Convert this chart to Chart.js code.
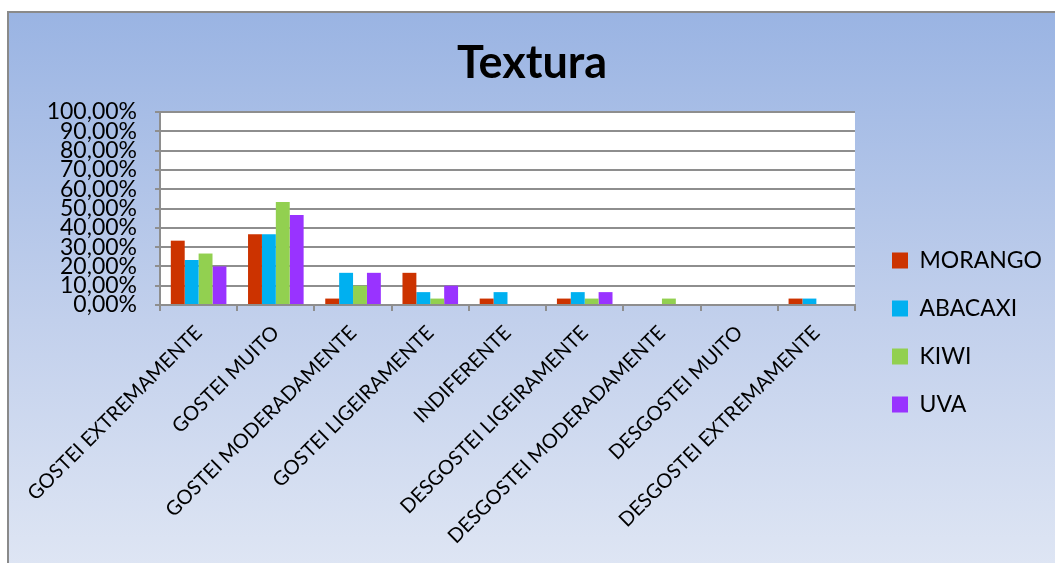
<!DOCTYPE html>
<html>
<head>
<meta charset="utf-8">
<script src="https://cdn.jsdelivr.net/npm/chart.js@4/dist/chart.umd.min.js"></script>
<style>
  html, body { margin: 0; padding: 0; background: #ffffff; width: 1055px; height: 563px; overflow: hidden; }
  #frame { position: absolute; left: 7px; top: 11px; width: 1060px; height: 560px;
    border-left: 2px solid #8a8a8a; border-top: 2px solid #8a8a8a;
    background: linear-gradient(to bottom, #9ab4e3 0%, #c2d0ec 55%, #dfe6f4 100%); }
  #c { position: absolute; left: 0; top: 0; }
</style>
</head>
<body>
<div id="frame"></div>
<canvas id="c" width="1055" height="563"></canvas>
<script>
const categories = ["GOSTEI EXTREMAMENTE", "GOSTEI MUITO", "GOSTEI MODERADAMENTE", "GOSTEI LIGEIRAMENTE",
  "INDIFERENTE", "DESGOSTEI LIGEIRAMENTE", "DESGOSTEI MODERADAMENTE", "DESGOSTEI MUITO", "DESGOSTEI EXTREMAMENTE"];
const morango = [33.33, 36.67, 3.33, 16.67, 3.33, 3.33, 0, 0, 3.33];
const abacaxi = [23.33, 36.67, 16.67, 6.67, 6.67, 6.67, 0, 0, 3.33];
const kiwi    = [26.67, 53.33, 10.00, 3.33, 0, 3.33, 3.33, 0, 0];
const uva     = [20.00, 46.67, 16.67, 10.00, 0, 6.67, 0, 0, 0];
const seriesNames = ["MORANGO", "ABACAXI", "KIWI", "UVA"];
const seriesColors = ["#cc3300", "#00b0f0", "#92d050", "#9933ff"];
const yTicks = [0, 10, 20, 30, 40, 50, 60, 70, 80, 90, 100];

const FONT = "Lato, 'Liberation Sans', sans-serif";

const plotBg = {
  id: 'plotBg',
  beforeDraw(chart) {
    const a = chart.chartArea, ctx = chart.ctx;
    ctx.save(); ctx.fillStyle = '#ffffff';
    ctx.fillRect(a.left, a.top, a.right - a.left, a.bottom - a.top);
    ctx.restore();
  },
  afterLayout(chart) {
    const lg = chart.legend;
    if (lg) { lg.left += 12; lg.right += 12; lg.top += 51; lg.bottom += 51; }
    const tb = chart.titleBlock;
    if (tb) { tb.left += 12; tb.right += 12; }
  }
};

new Chart(document.getElementById('c'), {
  type: 'bar',
  data: {
    labels: categories,
    datasets: [morango, abacaxi, kiwi, uva].map((d, i) => ({
      label: seriesNames[i], data: d, backgroundColor: seriesColors[i],
      borderWidth: 0, barPercentage: 1.0, categoryPercentage: 0.72
    }))
  },
  options: {
    responsive: false, animation: false, devicePixelRatio: 1,
    layout: { padding: { left: 0, right: 15, top: 0, bottom: 0 } },
    plugins: {
      title: { display: true, text: 'Textura', color: '#000',
        font: { family: FONT, size: 45, weight: 'bold', lineHeight: 1.2 },
        padding: { top: 36, bottom: 22 } },
      legend: { position: 'right',
        labels: { color: '#000', font: { family: FONT, size: 23 }, boxWidth: 16, boxHeight: 16, padding: 25 } },
      tooltip: { enabled: false }
    },
    scales: {
      x: {
        grid: { drawOnChartArea: false, offset: true, color: '#8e8e8e', lineWidth: 2, tickLength: 6 },
        border: { color: '#8e8e8e', width: 2 },
        ticks: { color: '#000', font: { family: FONT, size: 20 }, minRotation: 45, maxRotation: 45, autoSkip: false, padding: 10 },
        afterFit(s) { s.height = 258; }
      },
      y: {
        min: 0, max: 100,
        grid: { color: '#8e8e8e', lineWidth: 2, tickLength: 5 },
        border: { color: '#8e8e8e', width: 2 },
        afterBuildTicks(s) { s.ticks = yTicks.map(v => ({ value: v })); },
        ticks: { color: '#000', font: { family: FONT, size: 23, lineHeight: 1 }, autoSkip: false, padding: 18,
          callback: v => v.toFixed(2).replace('.', ',') + '%' },
        afterFit(s) { s.width = 160; }
      }
    }
  },
  plugins: [plotBg]
});
</script>
</body>
</html>
